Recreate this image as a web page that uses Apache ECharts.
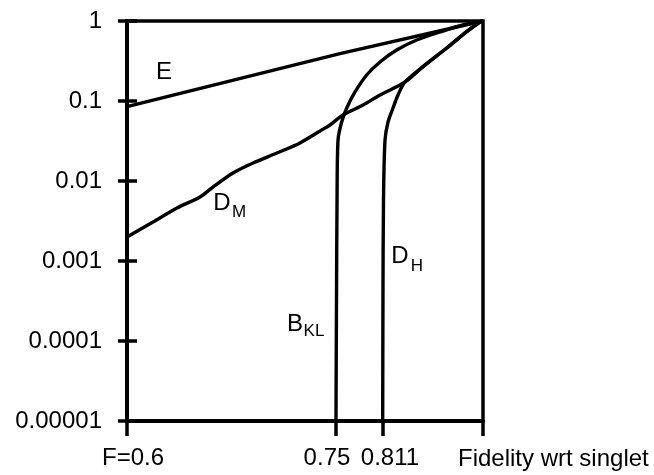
<!DOCTYPE html>
<html>
<head>
<meta charset="utf-8">
<script src="https://cdn.jsdelivr.net/npm/echarts@6/dist/echarts.min.js"></script>
<style>
html,body{margin:0;padding:0;background:#fff;}
#chart{width:654px;height:475px;}
</style>
</head>
<body>
<div id="chart"></div>
<script>
// Tick positions / labels
const xTickValues = [0.6, 0.8348, 0.8876, 1.0];
const xTickLabels = ['F=0.6', '0.75', '0.811', ''];
const yTickValues = [1e-5, 1e-4, 1e-3, 1e-2, 1e-1, 1];
const yTickLabels = ['0.00001', '0.0001', '0.001', '0.01', '0.1', '1'];

// Series values [x, y]
const eData = [[0.6, 0.085], [0.8393, 0.39], [1.0, 1.0]];
const dmData = [
  [0.6, 0.0020], [0.6292, 0.00307], [0.6562, 0.00460], [0.6820, 0.00631],
  [0.6966, 0.00841], [0.7191, 0.0126], [0.7416, 0.0168], [0.7685, 0.0224],
  [0.7944, 0.0299], [0.8169, 0.0422], [0.8281, 0.0501], [0.8427, 0.0668],
  [0.8652, 0.0891], [0.8843, 0.1189], [0.9124, 0.1728], [0.9326, 0.2685],
  [0.9592, 0.4597], [0.9817, 0.7348], [0.9966, 0.9716], [1.0, 1.0]
];
const bklData = [
  [0.8348, 1e-5], [0.8354, 3.25e-4], [0.8360, 0.00579], [0.8371, 0.0325],
  [0.8412, 0.0546], [0.8469, 0.0818], [0.8562, 0.1296], [0.8693, 0.2113],
  [0.8843, 0.3073], [0.9030, 0.4339], [0.9255, 0.5786], [0.9517, 0.7286],
  [0.9775, 0.8913], [0.9966, 0.9716], [1.0, 1.0]
];
const dhData = [
  [0.8873, 1e-5], [0.8876, 3.25e-4], [0.8882, 0.00579], [0.8899, 0.0325],
  [0.8933, 0.0546], [0.8989, 0.0818], [0.9045, 0.1189], [0.9124, 0.1728],
  [0.9326, 0.2685], [0.9592, 0.4597], [0.9817, 0.7348], [0.9966, 0.9716],
  [1.0, 1.0]
];

const FONT = "'Liberation Sans', Arial, sans-serif";
const FS = 24;
const chart = echarts.init(document.getElementById('chart'), null, {renderer: 'canvas'});

const xLabelRich = {
  a: {padding: [0, 0, 0, 12], fontSize: FS, fontFamily: FONT, color: '#000'},
  b: {padding: [0, 18, 0, 0], fontSize: FS, fontFamily: FONT, color: '#000'},
  c: {padding: [0, 0, 0, 14], fontSize: FS, fontFamily: FONT, color: '#000'}
};
const xLabelStyleKeys = ['a', 'b', 'c', 'a'];

function lineSeries(name, data, smooth) {
  return {
    name: name, type: 'line', data: data, showSymbol: false, symbol: 'none',
    smooth: smooth, clip: false,
    lineStyle: {color: '#000', width: 3.4}
  };
}

function subLabel(main, sub, cx, cy, sx, sy) {
  return {
    type: 'group',
    children: [
      {type: 'text', x: cx, y: cy, style: {text: main, fill: '#000', font: FS + 'px ' + FONT, align: 'center', verticalAlign: 'middle'}},
      sub ? {type: 'text', x: sx, y: sy, style: {text: sub, fill: '#000', font: '17px ' + FONT, align: 'center', verticalAlign: 'middle'}} : null
    ].filter(Boolean)
  };
}

chart.setOption({
  animation: false,
  backgroundColor: '#fff',
  grid: {left: 127, right: 171, top: 21, bottom: 54, show: true, borderColor: '#000', borderWidth: 3.5, backgroundColor: 'transparent'},
  xAxis: {
    type: 'value', min: 0.6, max: 1.0,
    name: 'Fidelity wrt singlet', nameLocation: 'end', nameGap: -25,
    nameTextStyle: {fontSize: FS, fontFamily: FONT, color: '#000', align: 'left', verticalAlign: 'top', padding: [26, 0, 0, 0]},
    axisLine: {show: true, onZero: false, lineStyle: {color: '#000', width: 4}},
    axisTick: {show: true, inside: false, length: 15, customValues: xTickValues, lineStyle: {color: '#000', width: 3.5}},
    axisLabel: {
      show: true, margin: 25, customValues: xTickValues,
      formatter: function (v) {
        const i = xTickValues.findIndex(t => Math.abs(t - v) < 1e-6);
        if (i < 0 || !xTickLabels[i]) return '';
        return '{' + xLabelStyleKeys[i] + '|' + xTickLabels[i] + '}';
      },
      rich: xLabelRich, color: '#000'
    },
    splitLine: {show: false}
  },
  yAxis: [
    {
      type: 'log', logBase: 10, min: 1e-5, max: 1, position: 'left',
      axisLine: {show: true, lineStyle: {color: '#000', width: 4}},
      axisTick: {show: true, inside: false, length: 9, customValues: yTickValues, lineStyle: {color: '#000', width: 3.5}},
      axisLabel: {
        show: true, margin: 25, customValues: yTickValues,
        fontSize: FS, fontFamily: FONT, color: '#000',
        formatter: function (v) {
          const i = yTickValues.findIndex(t => Math.abs(Math.log10(t) - Math.log10(v)) < 1e-6);
          return i < 0 ? '' : yTickLabels[i];
        }
      },
      splitLine: {show: false}
    },
    {
      type: 'log', logBase: 10, min: 1e-5, max: 1, position: 'left', offset: 0,
      axisLine: {show: false},
      axisTick: {show: true, inside: true, length: 10, customValues: yTickValues, lineStyle: {color: '#000', width: 3.5}},
      axisLabel: {show: false},
      splitLine: {show: false}
    }
  ],
  series: [
    lineSeries('E', eData, false),
    lineSeries('D_M', dmData, 0.3),
    lineSeries('B_KL', bklData, 0.3),
    lineSeries('D_H', dhData, 0.3)
  ],
  graphic: [
    subLabel('E', null, 164, 72),
    subLabel('D', 'M', 222, 203, 239, 212),
    subLabel('B', 'KL', 295, 324, 314, 331),
    subLabel('D', 'H', 400, 256, 417, 266)
  ]
});
</script>
</body>
</html>
